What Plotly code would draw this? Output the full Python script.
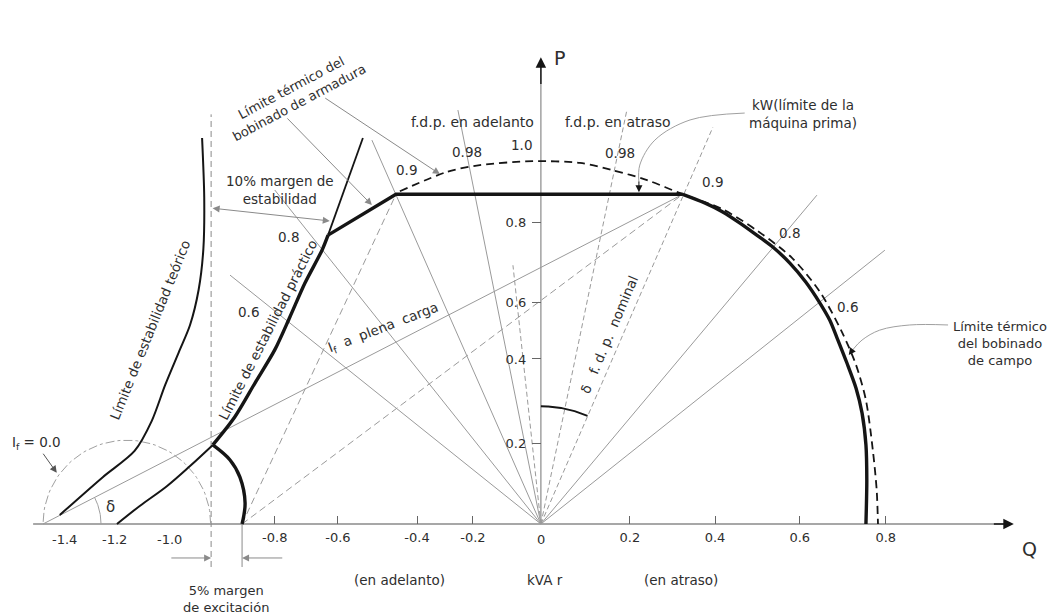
import numpy as np
import plotly.graph_objects as go

# ---- schematic units (per-unit kVA as drawn) ----
Q_RANGE = [-1.258, 1.212]
P_RANGE = [-0.214, 1.219]

q_tick_pos = [-0.619, -0.472, -0.288, -0.158, 0.207, 0.405, 0.602, 0.802]
q_tick_text = ["-0.8", "-0.6", "-0.4", "-0.2", "0.2", "0.4", "0.6", "0.8"]
q_extra_pos = [-1.109, -0.991, -0.863, 0.0]
q_extra_text = ["-1.4", "-1.2", "-1.0", "0"]
p_tick_pos = [0.188, 0.384, 0.516, 0.702]
p_tick_text = ["0.2", "0.4", "0.6", "0.8"]

# capability curve (thick)
exc_q = [-0.695, -0.688, -0.700, -0.723, -0.763]
exc_p = [0.0, 0.049, 0.109, 0.149, 0.184]
prac_q = [-0.763, -0.712, -0.665, -0.619, -0.584, -0.549, -0.509, -0.495]
prac_p = [0.184, 0.249, 0.328, 0.405, 0.481, 0.560, 0.637, 0.672]
kw_q = [-0.495, -0.337, 0.330]
kw_p = [0.672, 0.767, 0.767]
field_q = [0.330, 0.381, 0.423, 0.463, 0.502, 0.542, 0.579, 0.616, 0.649, 0.672,
           0.688, 0.712, 0.733, 0.747, 0.756, 0.758, 0.756]
field_p = [0.767, 0.747, 0.726, 0.700, 0.672, 0.642, 0.607, 0.563, 0.514, 0.474,
           0.435, 0.374, 0.316, 0.258, 0.184, 0.102, 0.0]

# armature thermal limit (dashed)
arm_q = [-0.328, -0.219, -0.142, -0.019, 0.091, 0.167, 0.247, 0.330, 0.421, 0.505,
         0.584, 0.649, 0.700, 0.733, 0.756, 0.772, 0.781, 0.784]
arm_p = [0.774, 0.819, 0.835, 0.844, 0.840, 0.823, 0.800, 0.767, 0.733, 0.681,
         0.619, 0.540, 0.447, 0.370, 0.288, 0.172, 0.079, 0.0]

# theoretical stability limit
theo_q = [-0.788, -0.783, -0.785, -0.796, -0.816, -0.842, -0.874, -0.905, -0.945, -1.019, -1.119]
theo_p = [0.898, 0.760, 0.640, 0.545, 0.463, 0.400, 0.323, 0.240, 0.170, 0.109, 0.021]

# practical stability limit, thin parts
pl_q = [-0.986, -0.933, -0.870, -0.816, -0.763]
pl_p = [0.0, 0.042, 0.088, 0.135, 0.184]
pext_q = [-0.495, -0.414]
pext_p = [0.672, 0.898]

# power-factor rays from origin (end points)
ray_solid_q = [-0.193, -0.393, -0.619, -0.723, 0.642, 0.800]
ray_solid_p = [0.963, 0.893, 0.777, 0.579, 0.765, 0.637]
ray_dash_q = [0.200, 0.400, -0.065]
ray_dash_p = [0.963, 0.923, 0.602]

# key points
C_pt = (-1.158, 0.0)   # I_f = 0
F_pt = (-0.695, 0.0)   # excitation margin foot
A_pt = (-0.337, 0.767)
B_pt = (0.330, 0.767)

# construction circles (center q, center p, radius, start deg, end deg)
if0_circle = (-0.963, 0.0, 0.195, 0, 180)
delta_c = (-1.158, 0.0, 0.135, 0, 27.3)
delta_o = (0.0, 0.0, 0.274, 66.7, 90)

margin_line_q = -0.767
foot_line_q = -0.695

fig = go.Figure()
GRAY = "#9a9a9a"
BLACK = "#151515"


def add_line(x, y, color=GRAY, width=1.0, dash="solid", shape="linear", smooth=1.0):
    fig.add_trace(go.Scatter(x=list(x), y=list(y), mode="lines", hoverinfo="skip",
                             line=dict(color=color, width=width, dash=dash, shape=shape,
                                       smoothing=smooth)))


def arc(c):
    cq, cp, r, a0, a1 = c
    t = np.radians(np.linspace(a0, a1, 60))
    return cq + r * np.cos(t), cp + r * np.sin(t)


# axes lines
add_line([-1.181, 1.09], [0, 0], "#8a8a8a", 1.3)
add_line([0, 0], [0, 1.07], "#8a8a8a", 1.2)

# rays from origin
xs, ys = [], []
for q, p in zip(ray_solid_q, ray_solid_p):
    xs += [0, q, None]; ys += [0, p, None]
add_line(xs, ys, GRAY, 1.0)
xs, ys = [], []
for q, p in zip(ray_dash_q, ray_dash_p):
    xs += [0, q, None]; ys += [0, p, None]
add_line(xs, ys, GRAY, 1.0, "5px,3px")

# lines from I_f=0 point and excitation foot
add_line([C_pt[0], B_pt[0]], [C_pt[1], B_pt[1]], GRAY, 1.0)
add_line([F_pt[0], B_pt[0], None, F_pt[0], A_pt[0]],
         [F_pt[1], B_pt[1], None, F_pt[1], A_pt[1]], GRAY, 1.0, "7px,4px")

# vertical margin lines
add_line([margin_line_q, margin_line_q], [-0.100, 0.953], "#8a8a8a", 1.0, "6px,4px")
add_line([foot_line_q, foot_line_q], [-0.100, 0.0], "#8a8a8a", 1.0)

# construction arcs
x, y = arc(if0_circle)
add_line(x, y, "#a0a0a0", 1.0, "dashdot")
x, y = arc(delta_c)
add_line(x, y, "#a0a0a0", 1.0)
x, y = arc(delta_o)
add_line(x, y, BLACK, 2.0)

# stability limits (thin)
add_line(theo_q, theo_p, BLACK, 2.0, shape="spline", smooth=0.8)
add_line(pl_q, pl_p, BLACK, 2.0, shape="spline")
add_line(pext_q, pext_p, BLACK, 1.8)

# armature limit dashed
add_line(arm_q, arm_p, BLACK, 1.8, "8px,5px", shape="spline", smooth=0.8)

# capability curve thick
add_line(exc_q, exc_p, BLACK, 3.4, shape="spline")
add_line(prac_q, prac_p, BLACK, 3.4, shape="spline", smooth=0.8)
add_line(kw_q, kw_p, BLACK, 3.4)
add_line(field_q, field_p, BLACK, 3.4, shape="spline", smooth=0.8)

# curved connectors
kw_conn_q = [0.474, 0.347, 0.265, 0.230, 0.228]
kw_conn_p = [0.956, 0.940, 0.893, 0.835, 0.795]
add_line(kw_conn_q, kw_conn_p, "#a0a0a0", 1.0, shape="spline")
campo_conn_q = [0.947, 0.858, 0.788, 0.747, 0.725]
campo_conn_p = [0.463, 0.463, 0.451, 0.428, 0.405]
add_line(campo_conn_q, campo_conn_p, "#a0a0a0", 1.0, shape="spline")

FONT = "DejaVu Sans"
TXT = "#2e2e2e"
ann = []


def text(q, p, s, size=13.5, angle=0, color=TXT, xanchor="center"):
    ann.append(dict(x=q, y=p, xref="x", yref="y", text=s, showarrow=False,
                    textangle=angle, xanchor=xanchor, yanchor="middle",
                    font=dict(family=FONT, size=size, color=color)))


def arrow(q0, p0, q1, p1, color="#8a8a8a", side="end", head=2, size=1.0, width=1.0):
    ann.append(dict(x=q1, y=p1, ax=q0, ay=p0, xref="x", yref="y", axref="x", ayref="y",
                    text="", showarrow=True, arrowhead=head, startarrowhead=head,
                    arrowside=side, arrowsize=size, startarrowsize=size,
                    arrowwidth=width, arrowcolor=color, standoff=0, startstandoff=0,
                    font=dict(size=1)))


# axis arrows and names
arrow(0, 1.02, 0, 1.086, BLACK, size=1.5, width=1.4)
arrow(1.05, 0, 1.100, 0, BLACK, size=1.5, width=1.4)
text(0.044, 1.084, "P", 19)
text(1.137, -0.058, "Q", 19)

# extra x labels without ticks
for q, s in zip(q_extra_pos, q_extra_text):
    text(q, -0.037, s, 13)

# labels
text(-0.158, 0.935, "f.d.p. en adelanto", 14)
text(0.179, 0.935, "f.d.p. en atraso", 14)
text(-0.044, 0.881, "1.0", 13.5)
text(-0.172, 0.865, "0.98", 13.5)
text(0.184, 0.863, "0.98", 13.5)
text(-0.312, 0.823, "0.9", 13.5)
text(0.400, 0.795, "0.9", 13.5)
text(0.579, 0.677, "0.8", 13.5)
text(0.712, 0.505, "0.6", 13.5)
text(-0.586, 0.667, "0.8", 13.5)
text(-0.681, 0.493, "0.6", 13.5)
text(0.609, 0.953, "kW(límite de la<br>máquina prima)", 13.5)
text(1.067, 0.419, "Límite térmico<br>del bobinado<br>de campo", 13)
text(-0.570, 0.998, "Límite térmico del<br>bobinado de armadura", 13, -28)
text(-0.607, 0.777, "10% margen de<br>estabilidad", 13.5)
text(-0.909, 0.451, "Límite de estabilidad teórico", 13.5, -68)
text(-0.635, 0.451, "Límite de estabilidad práctico", 13.5, -63)
text(-0.367, 0.456, "I<sub>f</sub>  a  plena  carga", 13.5, -21)
text(-1.002, 0.040, "δ", 15)
text(-1.172, 0.188, "I<sub>f</sub> = 0.0", 13.5)
text(0.158, 0.440, "δ   f. d. p.  nominal", 13.5, -67)
text(-0.328, -0.130, "(en adelanto)", 13.5)
text(0.009, -0.130, "kVA r", 13.5)
text(0.326, -0.130, "(en atraso)", 13.5)
text(-0.733, -0.174, "5% margen<br>de excitación", 13)

# pointer arrows
arrow(-0.593, 0.947, -0.393, 0.742, "#8a8a8a", head=2, size=1.4)
arrow(-0.505, 0.993, -0.235, 0.814, "#8a8a8a", head=2, size=1.4)
arrow(-0.767, 0.735, -0.491, 0.705, "#8a8a8a", side="end+start", head=2, size=1.4)
arrow(0.228, 0.800, 0.228, 0.772, BLACK, head=2, size=1.4)
arrow(0.725, 0.405, 0.716, 0.393, BLACK, head=2, size=1.4)
arrow(-1.160, 0.167, -1.126, 0.119, "#555555", head=2, size=1.4)
arrow(-0.863, -0.079, -0.767, -0.079, "#8a8a8a", head=2, size=1.4)
arrow(-0.598, -0.079, -0.695, -0.079, "#8a8a8a", head=2, size=1.4)

x_pos = (0 - P_RANGE[0]) / (P_RANGE[1] - P_RANGE[0])
y_pos = (0 - Q_RANGE[0]) / (Q_RANGE[1] - Q_RANGE[0])

fig.update_layout(
    width=1062, height=616, margin=dict(l=0, r=0, t=0, b=0),
    paper_bgcolor="white", plot_bgcolor="white", showlegend=False,
    annotations=ann,
    xaxis=dict(range=Q_RANGE, domain=[0, 1], anchor="free", position=x_pos,
               tickvals=q_tick_pos, ticktext=q_tick_text, ticks="inside", ticklen=8,
               tickwidth=1.3, tickcolor="#666", showgrid=False, zeroline=False,
               showline=False, ticklabelstandoff=4,
               tickfont=dict(family=FONT, size=13, color=TXT), fixedrange=True),
    yaxis=dict(range=P_RANGE, domain=[0, 1], anchor="free", position=y_pos, side="left",
               tickvals=p_tick_pos, ticktext=p_tick_text, ticks="outside", ticklen=9,
               tickwidth=1.3, tickcolor="#666", showgrid=False, zeroline=False,
               showline=False, ticklabelstandoff=3,
               tickfont=dict(family=FONT, size=13, color=TXT), fixedrange=True),
)

fig.write_html("out.html", config={"displayModeBar": False},
               post_script="document.body.style.margin='0';")
